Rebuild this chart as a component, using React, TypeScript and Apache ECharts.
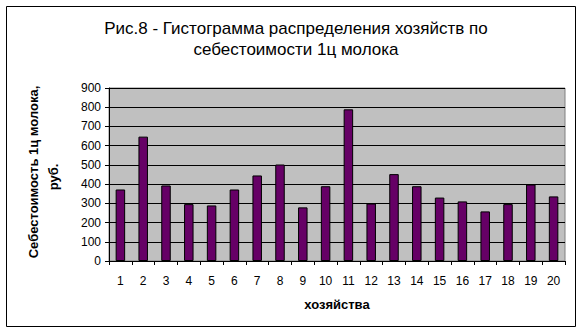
import React, { useEffect, useRef } from "react";
import * as echarts from "echarts";

const categories = ["1","2","3","4","5","6","7","8","9","10","11","12","13","14","15","16","17","18","19","20"];
const costs = [372, 647, 393, 296, 289, 372, 445, 502, 279, 389, 789, 299, 452, 389, 330, 310, 258, 296, 398, 336];
const titleText = "Рис.8 - Гистограмма распределения хозяйств по\nсебестоимости 1ц молока";
const yNameLines = ["Себестоимость 1ц молока,", "руб."];
const xName = "хозяйства";

const FONT = "Arial, 'Liberation Sans', sans-serif";

export default function App() {
  const ref = useRef<HTMLDivElement>(null);
  useEffect(() => {
    if (!ref.current) return;
    const chart = echarts.init(ref.current, undefined, { renderer: "svg" });
    chart.setOption({
      animation: false,
      backgroundColor: "#ffffff",
      title: {
        text: titleText,
        left: 291,
        top: 13,
        textAlign: "center",
        textStyle: { fontFamily: FONT, fontSize: 17, fontWeight: "normal", color: "#000", lineHeight: 21 },
      },
      graphic: [
        { type: "rect", shape: { x: 6.5, y: 6.5, width: 569, height: 320 }, style: { fill: "none", stroke: "#000", lineWidth: 1 }, z: 100 },
        {
          type: "text", x: 33, y: 172, rotation: Math.PI / 2,
          style: { text: yNameLines[0], fill: "#000", font: "bold 13px " + FONT, textAlign: "center", textVerticalAlign: "middle" },
        },
        {
          type: "text", x: 53, y: 177, rotation: Math.PI / 2,
          style: { text: yNameLines[1], fill: "#000", font: "bold 13px " + FONT, textAlign: "center", textVerticalAlign: "middle" },
        },
      ],
      grid: {
        left: 109, right: 17, top: 88, bottom: 73,
        show: true, backgroundColor: "#C0C0C0", borderColor: "#808080", borderWidth: 1,
      },
      xAxis: {
        type: "category",
        data: categories,
        name: xName,
        nameLocation: "middle",
        nameGap: 37,
        nameTextStyle: { fontFamily: FONT, fontSize: 13, fontWeight: "bold", color: "#000" },
        axisLine: { lineStyle: { color: "#000" } },
        axisTick: { show: true, length: 4, lineStyle: { color: "#000" } },
        axisLabel: { fontFamily: FONT, fontSize: 12, color: "#000", margin: 14, interval: 0 },
      },
      yAxis: {
        type: "value",
        min: 0, max: 900, interval: 100,
        axisLine: { show: true, lineStyle: { color: "#000" } },
        axisTick: { show: true, length: 4, lineStyle: { color: "#000" } },
        axisLabel: { fontFamily: FONT, fontSize: 12, color: "#000", margin: 8 },
        splitLine: { lineStyle: { color: "#000", width: 1 } },
      },
      series: [
        {
          type: "bar",
          data: costs,
          barWidth: 9.5,
          itemStyle: { color: "#660066", borderColor: "#000", borderWidth: 1 },
        },
      ],
    });
    return () => chart.dispose();
  }, []);
  return <div ref={ref} style={{ width: 582, height: 334, position: "absolute", left: 0, top: 0 }} />;
}
